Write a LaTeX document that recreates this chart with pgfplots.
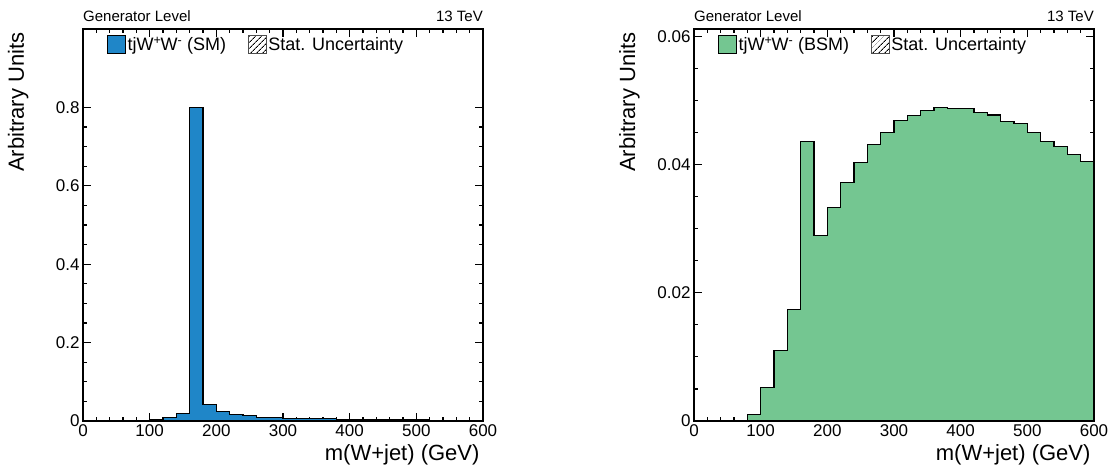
\documentclass[border=0pt]{standalone}
\usepackage{fontspec}
\setmainfont{Liberation Sans}
\usepackage{pgfplots}
\pgfplotsset{compat=1.18}
\usetikzlibrary{patterns.meta}
\definecolor{smblue}{RGB}{31,134,200}
\definecolor{bsmgreen}{RGB}{116,198,145}
\newcommand{\fs}[1]{\fontsize{#1}{#1}\selectfont}
\pgfplotsset{hstyle/.style={
  scale only axis, width=400pt, height=392pt,
  xmin=0, xmax=600, ymin=0, clip=false,
  xtick={0,100,...,600}, minor x tick num=4,
  tick align=inside, major tick length=8pt, minor tick length=4pt,
  every tick/.style={black, line width=1.1pt},
  axis line style={line width=1.6pt},
  tick label style={font=\fs{17}},
  /pgf/number format/assume math mode=true,
  scaled y ticks=false,
  yticklabel style={/pgf/number format/fixed, /pgf/number format/precision=2},
  every axis x label/.style={at={(rel axis cs:1,-0.102)}, anchor=base east, font=\fs{22}},
  every axis y label/.style={at={(rel axis cs:-0.1475,1)}, anchor=base east, rotate=90, font=\fs{22}},
  xlabel={m(W+jet) (GeV)}, ylabel={Arbitrary Units},
  legend columns=2,
  legend image code/.code={\draw[#1] (0pt,-8.8pt) rectangle (18.3pt,8.8pt);},
  legend style={draw=none, fill=none, inner sep=0pt, anchor=west, font=\fs{18},
    nodes={inner xsep=1.5pt, inner ysep=0pt},
    /tikz/every even column/.append style={column sep=20pt}},
}}
\begin{document}
\begin{tikzpicture}
\useasboundingbox (0,0) rectangle (1119pt,474pt);
\begin{axis}[hstyle, at={(83pt,53pt)}, anchor=south west,
  ymax=1.0, ytick={0,0.2,0.4,0.6,0.8}, minor y tick num=3,
  legend style={at={(0.059,0.9605)}}]
\addplot[const plot, fill=smblue, draw=black, line width=1.1pt] coordinates {
(0,0) (20,0) (40,0.0003) (60,0.0006) (80,0.001) (100,0.003) (120,0.008) (140,0.020)
(160,0.800) (180,0.043) (200,0.025) (220,0.016) (240,0.013) (260,0.010) (280,0.0085)
(300,0.0075) (320,0.0067) (340,0.006) (360,0.0053) (380,0.0047) (400,0.0042) (420,0.0038)
(440,0.0034) (460,0.003) (480,0.0028) (500,0.0025) (520,0.0023) (540,0.0021) (560,0.0019)
(580,0.0018) (600,0.0018)} \closedcycle;
\addlegendentry{tjW\textsuperscript{+}\kern-1pt W\textsuperscript{-} (SM)}
\addlegendimage{pattern={Lines[angle=45, distance=4pt, line width=0.9pt]}, draw=black!70, line width=0.9pt}
\addlegendentry{Stat. Uncertainty}
\node[anchor=base west, font=\fs{15}, inner sep=0pt] at (rel axis cs:0,1.018) {Generator Level};
\node[anchor=base east, font=\fs{15}, inner sep=0pt] at (rel axis cs:1,1.018) {13 TeV};
\end{axis}
\begin{axis}[hstyle, at={(694pt,53pt)}, anchor=south west,
  ymax=0.0612, ytick={0,0.02,0.04,0.06}, minor y tick num=3,
  legend style={at={(0.059,0.9605)}}]
\addplot[const plot, fill=bsmgreen, draw=black, line width=1.1pt] coordinates {
(0,0) (20,0) (40,0) (60,0) (80,0.001) (100,0.0052) (120,0.01106) (140,0.01735)
(160,0.04358) (180,0.02893) (200,0.03335) (220,0.03719) (240,0.04036) (260,0.04321)
(280,0.04503) (300,0.0469) (320,0.04768) (340,0.04841) (360,0.04893) (380,0.04882)
(400,0.04872) (420,0.0482) (440,0.04778) (460,0.04669) (480,0.04638) (500,0.04508)
(520,0.04368) (540,0.04285) (560,0.04166) (580,0.04056) (600,0.04056)} \closedcycle;
\addlegendentry{tjW\textsuperscript{+}\kern-1pt W\textsuperscript{-} (BSM)}
\addlegendimage{pattern={Lines[angle=45, distance=4pt, line width=0.9pt]}, draw=black!70, line width=0.9pt}
\addlegendentry{Stat. Uncertainty}
\node[anchor=base west, font=\fs{15}, inner sep=0pt] at (rel axis cs:0,1.018) {Generator Level};
\node[anchor=base east, font=\fs{15}, inner sep=0pt] at (rel axis cs:1,1.018) {13 TeV};
\end{axis}
\end{tikzpicture}
\end{document}
